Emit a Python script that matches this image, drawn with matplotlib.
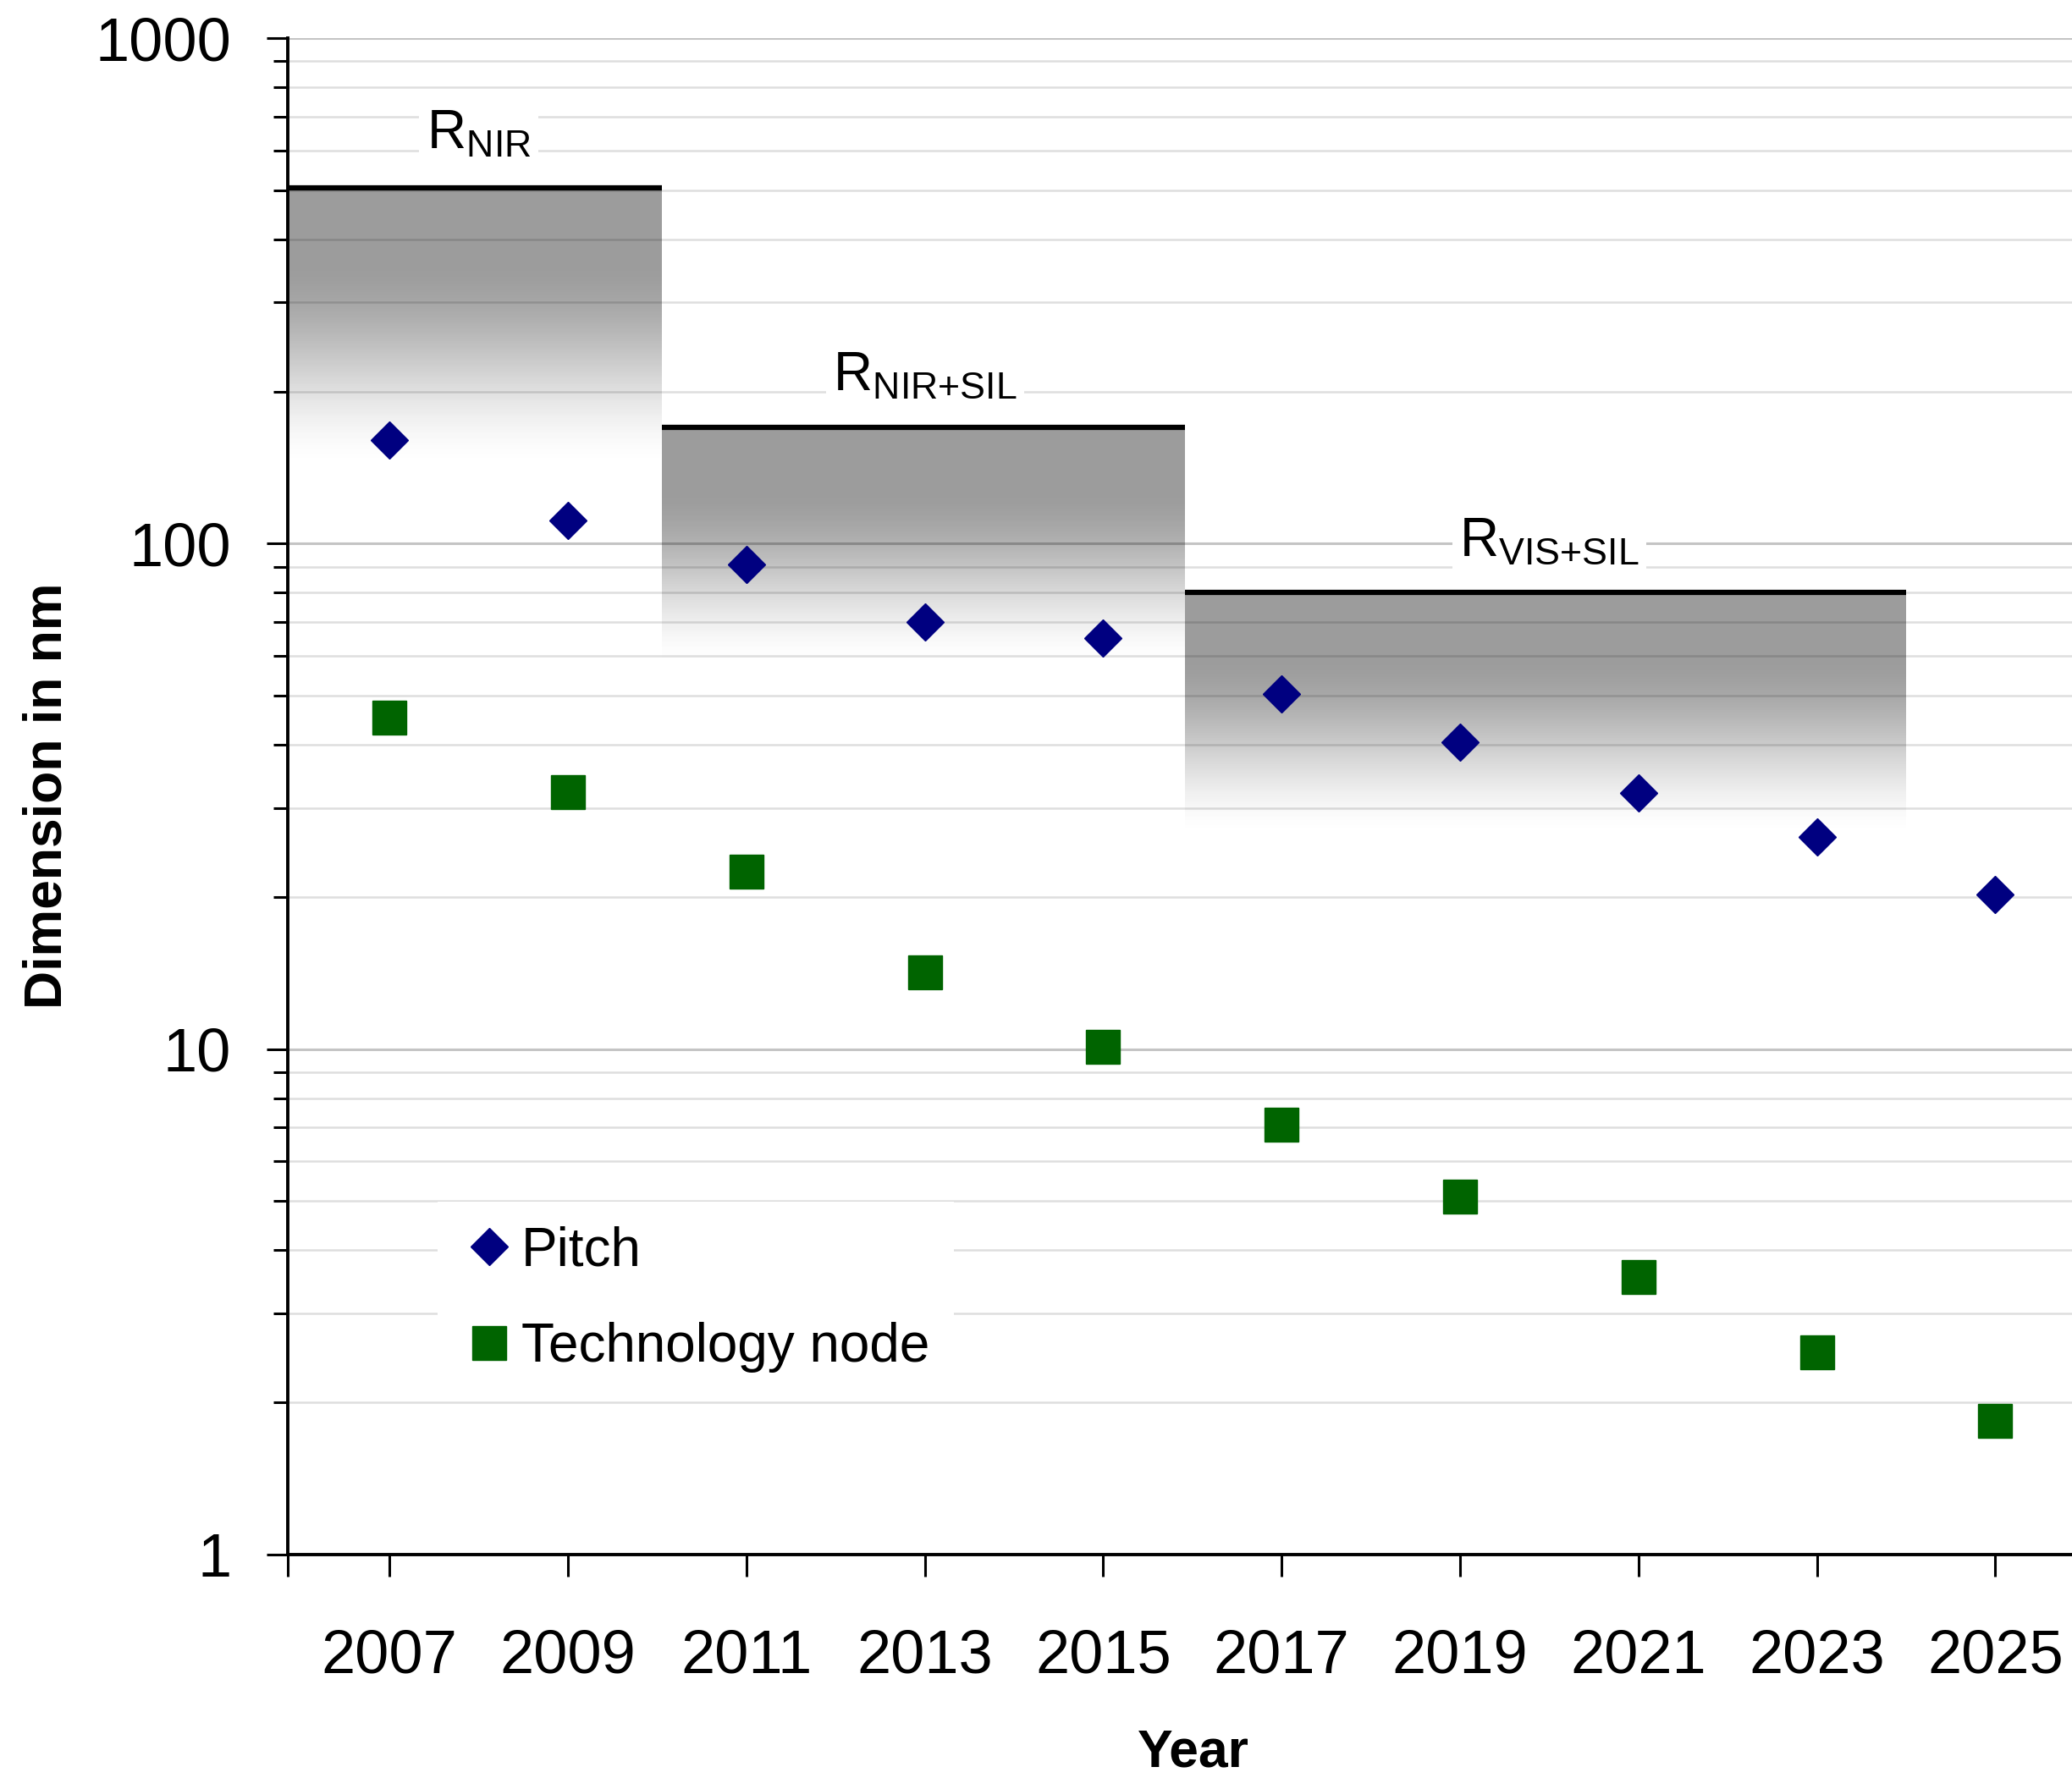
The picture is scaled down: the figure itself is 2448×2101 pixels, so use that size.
import numpy as np
import matplotlib
matplotlib.use("Agg")
import matplotlib.pyplot as plt
from matplotlib.colors import LinearSegmentedColormap
from matplotlib.ticker import LogLocator, NullFormatter, FixedLocator, FixedFormatter

plt.rcParams['font.family'] = ['Liberation Sans', 'DejaVu Sans']
plt.rcParams['mathtext.fontset'] = 'custom'
plt.rcParams['mathtext.rm'] = 'Liberation Sans'
plt.rcParams['mathtext.it'] = 'Liberation Sans:italic'
plt.rcParams['mathtext.bf'] = 'Liberation Sans:bold'

# ---- data -------------------------------------------------------------
years = [2007, 2009, 2011, 2013, 2015, 2017, 2019, 2021, 2023, 2025]
pitch_nm = [160, 111, 91, 70, 65, 50.5, 40.4, 32.1, 26.3, 20.2]
node_nm = [45.3, 32.3, 22.4, 14.2, 10.1, 7.1, 5.1, 3.54, 2.51, 1.84]

# optical resolution limits
res_labels = [r'R$_{\mathrm{NIR}}$', r'R$_{\mathrm{NIR{+}SIL}}$', r'R$_{\mathrm{VIS{+}SIL}}$']
res_start = [2005.86, 2010.05, 2015.92]
res_end = [2010.05, 2015.92, 2024]
res_limit = [505, 170, 80]

y_ticks = [1, 10, 100, 1000]
y_ticklabels = ['1', '10', '100', '1000']

# ---- layout -----------------------------------------------------------
W, H = 2448, 2101
x_min, x_max = 2005.86, 2025.86
label_x = [2008.0, 2013.0, 2020.0]
label_y = [645, 215, 101]
fade_depth = [0.56, 0.48, 0.49]   # decades over which the shading fades out

fig = plt.figure(figsize=(W / 100, H / 100), dpi=100)
ax = fig.add_axes([340 / W, 1 - 1837 / H, 1 - 340 / W, (1837 - 45) / H])
ax.set_yscale('log')
ax.set_xlim(x_min, x_max)
ax.set_ylim(1, 1000)

# grid
ax.set_axisbelow(True)
ax.yaxis.set_minor_locator(LogLocator(base=10, subs=range(2, 10)))
ax.yaxis.set_minor_formatter(NullFormatter())
ax.yaxis.grid(True, which='major', color='#c4c4c4', lw=2.2)
ax.yaxis.grid(True, which='minor', color='#dedede', lw=1.8)
ax.xaxis.grid(False)

# shaded resolution regions
shade = LinearSegmentedColormap.from_list('shade', [(0, 0, 0, 0), (0, 0, 0, 1)])
for lab, x0, x1, lim, depth, lx, ly in zip(res_labels, res_start, res_end, res_limit,
                                             fade_depth, label_x, label_y):
    n = 150
    ye = np.logspace(np.log10(lim) - depth, np.log10(lim), n + 1)
    t = 1 - (np.arange(n) + 0.5) / n          # 0 at top, 1 at bottom
    s = np.clip((t - 0.25) / 0.75, 0, 1)
    alpha = 0.39 * (1 - (3 * s ** 2 - 2 * s ** 3))
    ax.pcolormesh([x0, x1], ye, alpha[:, None], cmap=shade, vmin=0, vmax=1,
                  shading='flat', edgecolors='none', antialiased=False, zorder=1)
    ax.hlines(lim, x0, x1, color='black', lw=4.5, zorder=4)
    ax.text(lx, ly, lab, fontsize=46, ha='center', va='center', zorder=5,
            bbox=dict(facecolor='white', edgecolor='none', pad=6))

# data series
ax.plot(years, pitch_nm, ls='none', marker='D', ms=22, color='#000080',
        mec='#000080', label='Pitch', zorder=6)
ax.plot(years, node_nm, ls='none', marker='s', ms=28.5, color='#006400',
        mec='#006400', label='Technology node', zorder=6)

# axes styling
for side in ('top', 'right'):
    ax.spines[side].set_visible(False)
for side in ('left', 'bottom'):
    ax.spines[side].set_linewidth(2.8)
    ax.spines[side].set_color('black')

ax.yaxis.set_major_locator(FixedLocator(y_ticks))
ax.yaxis.set_major_formatter(FixedFormatter(y_ticklabels))
ax.set_xticks([x_min] + years)
ax.set_xticklabels([''] + [str(y) for y in years])

ax.tick_params(axis='y', which='major', direction='out', length=18, width=2.2,
               labelsize=52, pad=30)
ax.tick_params(axis='y', which='minor', direction='out', length=12, width=2.2)
ax.tick_params(axis='x', which='major', direction='out', length=19, width=2.2,
               labelsize=52, pad=44)

fig.text(56 / W, 1 - 940 / H, 'Dimension in nm', rotation=90, ha='center',
         va='center', fontsize=45, fontweight='bold')
fig.text(1410 / W, 1 - 2088 / H, 'Year', ha='center', va='baseline',
         fontsize=45, fontweight='bold')

leg = ax.legend(loc='upper left', bbox_to_anchor=(517 / W, 1 - 1420 / H),
                bbox_transform=fig.transFigure, fontsize=46, frameon=True,
                facecolor='white', edgecolor='none', framealpha=1,
                borderpad=0.45, borderaxespad=0, handlelength=1.0,
                handletextpad=0.1, labelspacing=0.84, markerscale=1.0)
leg.get_frame().set_boxstyle('square', pad=0)
leg.set_zorder(7)

fig.savefig('out.png', dpi=100, facecolor='white')
